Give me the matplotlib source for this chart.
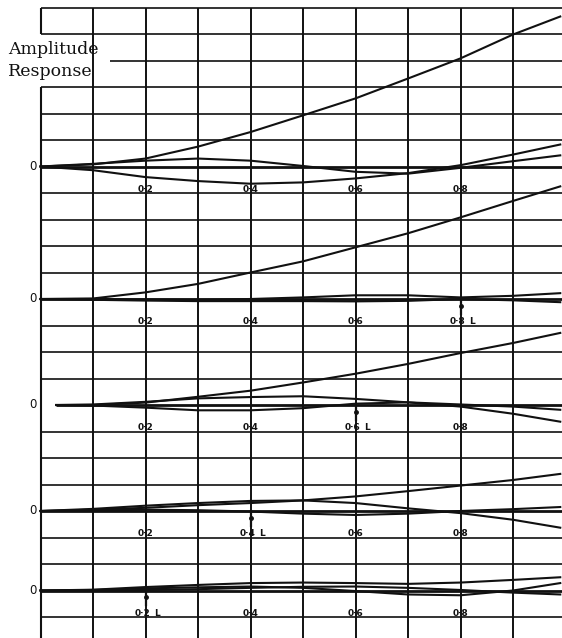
import matplotlib
matplotlib.use("Agg")
import matplotlib.pyplot as plt

# frequency positions (fraction of band)
FREQ = [0.0, 0.1, 0.2, 0.3, 0.4, 0.5, 0.6, 0.7, 0.8, 0.9, 0.99]
FREQ_P3 = [0.03, 0.1, 0.2, 0.3, 0.4, 0.5, 0.6, 0.7, 0.8, 0.9, 0.99]

# amplitude, in grid squares above each zero line
P1_A = [0, 0.08, 0.30, 0.75, 1.30, 1.93, 2.57, 3.32, 4.08, 4.98, 5.66]
P1_B = [0, 0.10, 0.22, 0.30, 0.22, 0.02, -0.20, -0.27, -0.05, 0.20, 0.42]
P1_C = [0, -0.14, -0.40, -0.55, -0.65, -0.60, -0.45, -0.25, 0.05, 0.45, 0.83]

P2_A = [0, 0.02, 0.25, 0.57, 1.00, 1.42, 1.95, 2.48, 3.08, 3.70, 4.25]
P2_B = [0, 0.0, -0.02, -0.03, 0.0, 0.06, 0.14, 0.14, 0.06, 0.12, 0.22]
P2_C = [0, -0.03, -0.06, -0.08, -0.08, -0.08, -0.09, -0.07, 0.0, -0.05, -0.12]

P3_A = [0, 0.0, 0.09, 0.31, 0.54, 0.85, 1.18, 1.55, 1.96, 2.34, 2.72]
P3_B = [0, 0.02, 0.12, 0.25, 0.30, 0.33, 0.23, 0.10, -0.06, -0.33, -0.63]
P3_C = [0, -0.02, -0.10, -0.20, -0.20, -0.12, 0.05, 0.10, 0.02, -0.06, -0.18]

P4_A = [0, 0.05, 0.12, 0.22, 0.30, 0.40, 0.55, 0.75, 0.96, 1.17, 1.40]
P4_B = [0, 0.08, 0.20, 0.30, 0.38, 0.40, 0.30, 0.10, -0.08, -0.33, -0.63]
P4_C = [0, 0.02, 0.05, 0.03, -0.02, -0.10, -0.15, -0.10, 0.0, 0.07, 0.15]

P5_A = [0, 0.03, 0.13, 0.21, 0.28, 0.30, 0.28, 0.25, 0.30, 0.40, 0.50]
P5_B = [0, 0.02, 0.08, 0.12, 0.15, 0.10, -0.02, -0.15, -0.18, 0.0, 0.28]
P5_C = [0, 0.0, 0.02, 0.05, 0.10, 0.14, 0.15, 0.10, 0.02, -0.08, -0.15]

TICK_VALUES = [0.2, 0.4, 0.6, 0.8]
TICK_TEXT = ["0·2", "0·4", "0·6", "0·8"]
L_MARKS = [None, 0.8, 0.6, 0.4, 0.2]

panels = [
    (FREQ, [P1_A, P1_B, P1_C]),
    (FREQ, [P2_A, P2_B, P2_C]),
    (FREQ_P3, [P3_A, P3_B, P3_C]),
    (FREQ, [P4_A, P4_B, P4_C]),
    (FREQ, [P5_A, P5_B, P5_C]),
]
zero_rows = [6, 11, 15, 19, 22]

W, H = 562, 638
x0_px, x_scale = 40.5, 525.0      # pixel of f=0, pixels per unit f
y0_px, row_px = 7.5, 26.5         # pixel of top rule, pixels per grid row

fig = plt.figure(figsize=(W / 100, H / 100), dpi=100)
ax = fig.add_axes([0, 0, 1, 1])
ax.set_xlim(-x0_px / x_scale, (W - x0_px) / x_scale)
ax.set_ylim(-(H - y0_px) / row_px, y0_px / row_px)
ax.axis("off")

ink = "#111111"

# vertical rules, every 0.1
for i in range(10):
    f = i / 10
    if i == 0:
        ax.plot([f, f], [0, -1], color=ink, lw=1.5, solid_capstyle="butt")
        ax.plot([f, f], [-3, -30], color=ink, lw=1.5, solid_capstyle="butt")
    else:
        ax.plot([f, f], [0, -30], color=ink, lw=1.4, solid_capstyle="butt")

# horizontal rules
right = 1.2
for k in range(24):
    start = 0.0
    if k == 2:
        start = (110 - x0_px) / x_scale
    if k == 15:
        start = 0.03
    lw = 2.0 if k in zero_rows else 1.2
    ax.plot([start, right], [-k, -k], color=ink, lw=lw, solid_capstyle="butt")

# response curves
for (fx, curves), row in zip(panels, zero_rows):
    for c in curves:
        ax.plot(fx, [-row + v for v in c], color=ink, lw=1.5,
                solid_joinstyle="round")

# zero labels and frequency labels
for n, row in enumerate(zero_rows):
    ax.text(-7.5 / x_scale, -row, "0", ha="center", va="center",
            fontsize=8.5, color=ink, family="DejaVu Sans")
    for v, t in zip(TICK_VALUES, TICK_TEXT):
        if L_MARKS[n] == v:
            ax.text(v - 0.006, -row - 0.85, t, ha="center", va="center",
                    fontsize=6.5, fontweight="bold", color=ink)
            ax.text(v + 0.022, -row - 0.85, "L", ha="center", va="center",
                    fontsize=6.5, fontweight="bold", color=ink)
            ax.plot([v, v], [-row, -row - 0.55], color=ink, lw=1.6)
            ax.plot([v], [-row - 0.25], "o", color=ink, ms=2.5)
        else:
            ax.text(v, -row - 0.85, t, ha="center", va="center",
                    fontsize=6.5, fontweight="bold", color=ink)

fig.text(8 / W, 1 - 49 / H, "Amplitude", ha="left", va="center",
         fontsize=12.5, family="DejaVu Serif", color=ink)
fig.text(8 / W, 1 - 71 / H, "Response", ha="left", va="center",
         fontsize=12.5, family="DejaVu Serif", color=ink)

fig.savefig("out.png", dpi=100, facecolor="white")
